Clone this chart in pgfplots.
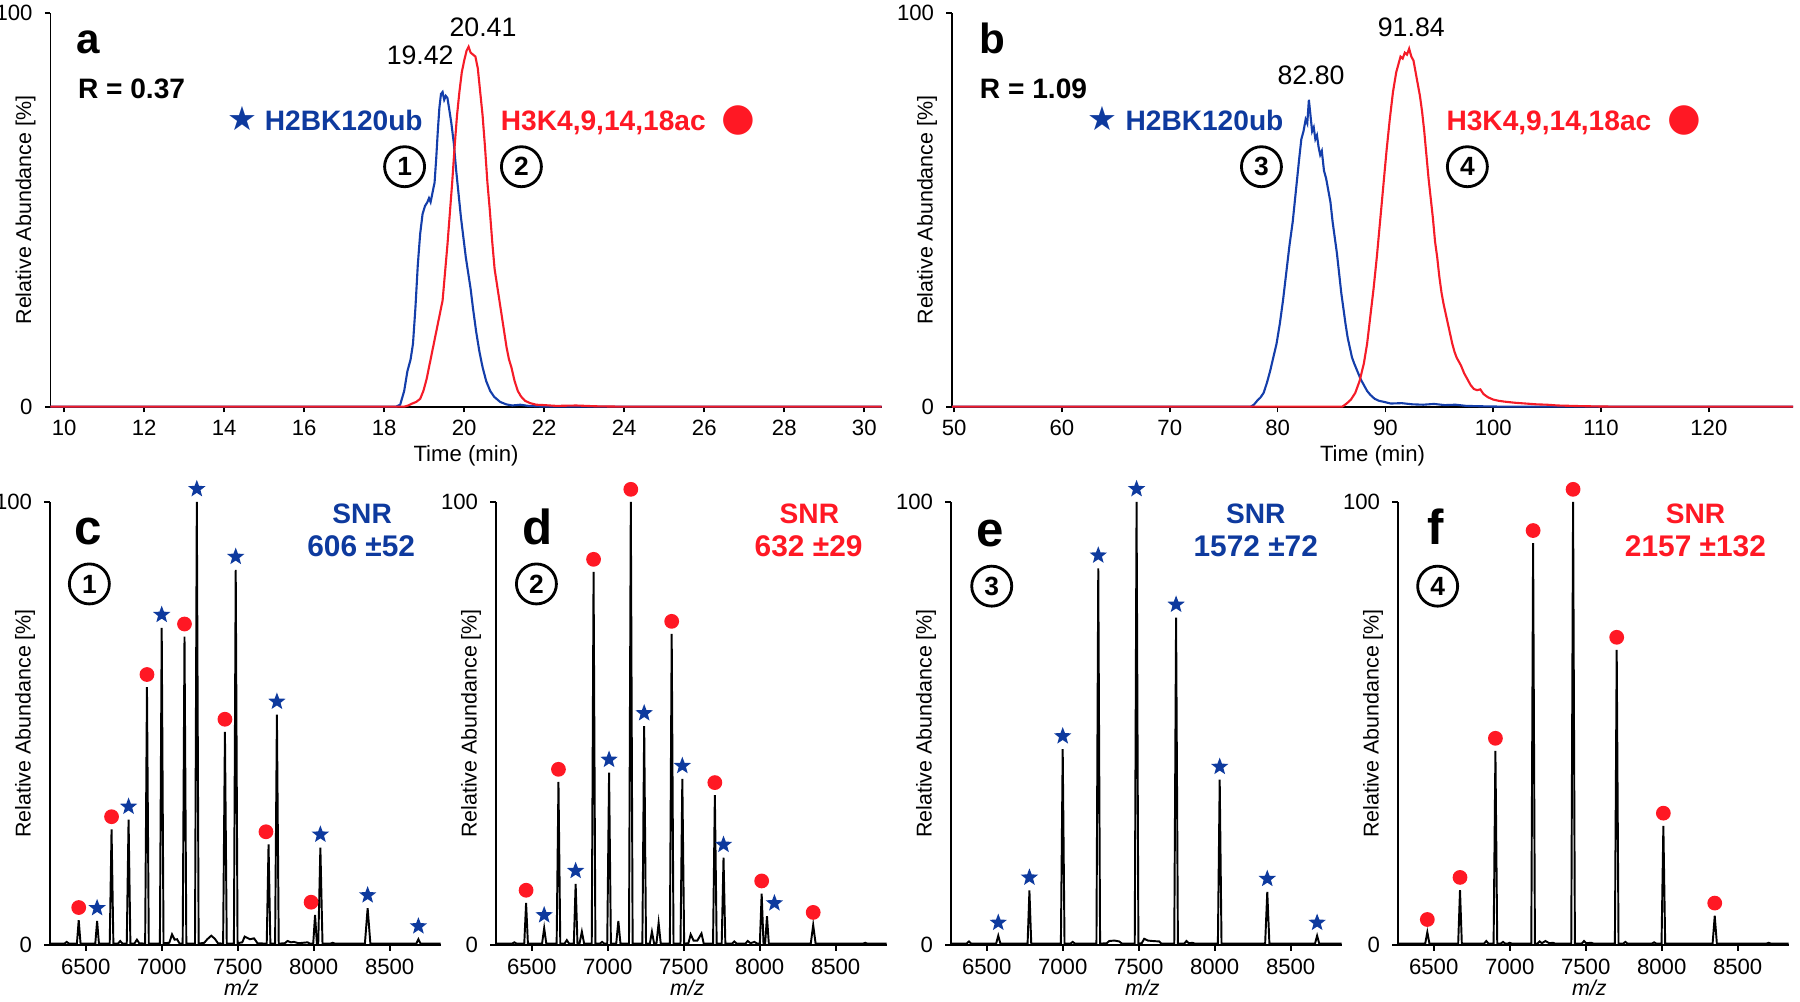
\documentclass[border=0pt]{standalone}
\usepackage{pgfplots}
\pgfplotsset{compat=1.18}
\usepackage{fontspec}
\setmainfont{Liberation Sans}
\newfontfamily\dejavu{DejaVu Sans}
\definecolor{myblue}{RGB}{14,58,158}
\definecolor{myred}{RGB}{255,24,36}
\definecolor{cblue}{RGB}{20,62,170}
\definecolor{cred}{RGB}{245,28,40}

\pgfdeclareplotmark{fstar}{%
  \pgfpathmoveto{\pgfpointpolar{90}{\pgfplotmarksize}}%
  \pgfpathlineto{\pgfpointpolar{126}{0.42\pgfplotmarksize}}%
  \pgfpathlineto{\pgfpointpolar{162}{\pgfplotmarksize}}%
  \pgfpathlineto{\pgfpointpolar{198}{0.42\pgfplotmarksize}}%
  \pgfpathlineto{\pgfpointpolar{234}{\pgfplotmarksize}}%
  \pgfpathlineto{\pgfpointpolar{270}{0.42\pgfplotmarksize}}%
  \pgfpathlineto{\pgfpointpolar{306}{\pgfplotmarksize}}%
  \pgfpathlineto{\pgfpointpolar{342}{0.42\pgfplotmarksize}}%
  \pgfpathlineto{\pgfpointpolar{18}{\pgfplotmarksize}}%
  \pgfpathlineto{\pgfpointpolar{54}{0.42\pgfplotmarksize}}%
  \pgfpathclose
  \pgfusepathqfill
}

\newcommand{\lbl}[1]{\fontsize{#1}{#1}\selectfont}
\newcommand{\circnum}[1]{node[circle, draw=black, line width=0.8pt, minimum size=0.4cm, inner sep=0pt, font=\lbl{7.5}\bfseries]{#1}}

\pgfplotsset{
  base/.style={scale only axis, clip=false,
    axis x line*=bottom, axis y line*=left,
    axis line style={-, line width=0.5pt},
    tick align=outside, major tick length=1.6pt,
    tick style={line width=0.5pt, black},
    ymin=0, ymax=100, ytick={0,100},
    tick label style={font=\lbl{6.3}},
    xticklabel style={yshift=1.2pt},
    /pgf/number format/assume math mode=true,
    /pgf/number format/set thousands separator={},
    ylabel={Relative Abundance [\%]},
    ylabel style={font=\lbl{6.1}, anchor=center},
  },
  chrom/.style={base, height=3.934cm,
    xlabel={Time (min)},
    xlabel style={at={(axis description cs:0.5,0)}, anchor=center, yshift=-0.49cm, font=\lbl{6.3}},
    ylabel style={at={(axis description cs:#1,0.5)}},
  },
  spec/.style={base, height=4.43cm, width=3.906cm, xmin=6265, xmax=8835,
    xtick={6500,7000,...,8500},
    xlabel={\textit{m/z}},
    xlabel style={at={(axis description cs:0.49,0)}, anchor=center, yshift=-0.43cm, font=\lbl{6.1}},
    ylabel style={at={(axis description cs:-0.064,0.5)}},
  },
  specline/.style={black, line width=0.55pt},
  bstar/.style={only marks, mark=fstar, mark size=2.6pt, color=myblue, mark options={fill=myblue, yshift=3.7pt}},
  rdot/.style={only marks, mark=*, mark size=1.9pt, color=myred, mark options={fill=myred, draw=myred, yshift=3.6pt}},
}

\begin{document}
\begin{tikzpicture}
\path[use as bounding box] (0,0) rectangle (18,10.02);

% ---------------- panel a ----------------
\begin{axis}[chrom=-0.030, at={(0.505cm,5.953cm)}, anchor=south west, width=8.31cm,
  xmin=9.66, xmax=30.43, xtick={10,12,...,30}]
\addplot[cblue, line width=0.6pt] coordinates {
(9.66,0) (18.3,0) (18.4,0.5) (18.5,4) (18.58,9) (18.66,12) (18.72,16) (18.78,25) (18.84,36) (18.9,44) (18.96,49) (19.02,51) (19.08,52) (19.12,53) (19.16,52) (19.2,54) (19.26,57) (19.3,63) (19.34,70) (19.38,76) (19.42,79.5) (19.46,80) (19.5,78) (19.54,79) (19.58,78.5) (19.62,76) (19.68,72) (19.74,67) (19.8,60) (19.86,54) (19.92,48) (19.98,43) (20.04,38) (20.1,34) (20.16,30) (20.22,25) (20.3,19) (20.38,14) (20.46,10) (20.55,6.5) (20.65,4) (20.75,2.5) (20.9,1.2) (21.05,0.6) (21.2,0.3) (21.4,0.5) (21.6,0.2) (22,0) (30.43,0)};
\addplot[cred, line width=0.6pt] coordinates {
(9.66,0) (18.5,0) (18.6,0.3) (18.7,0.8) (18.8,1.2) (18.9,2) (18.98,4) (19.06,7) (19.12,10) (19.2,14) (19.28,18) (19.34,21) (19.4,24) (19.46,27) (19.52,34) (19.58,41) (19.64,49) (19.7,57) (19.76,66) (19.82,74) (19.88,80) (19.94,85) (20.0,88) (20.06,90.5) (20.11,91.5) (20.16,90) (20.22,89.5) (20.28,89) (20.34,86) (20.4,80) (20.46,74) (20.52,66) (20.58,57) (20.64,50) (20.7,42) (20.76,35) (20.82,31) (20.88,27) (20.94,23) (21.0,19) (21.06,15) (21.12,12) (21.18,10) (21.26,6.5) (21.34,4) (21.42,2.6) (21.52,1.5) (21.65,0.9) (21.8,0.5) (22.0,0.4) (22.3,0.2) (22.8,0.3) (23.3,0.1) (24,0) (30.43,0)};
\node[anchor=base, font=\lbl{12}\bfseries] at (axis cs:10.61,89.8) {a};
\node[anchor=base west, font=\lbl{8}\bfseries, inner sep=0pt] at (axis cs:10.33,78.4) {R = 0.37};
\node[anchor=base east, font=\lbl{8}\bfseries, text=myblue, inner sep=0pt] at (axis cs:18.98,70.3) {{\dejavu\lbl{9.5}★} H2BK120ub};
\node[anchor=base west, font=\lbl{8}\bfseries, text=myred, inner sep=0pt] at (axis cs:20.9,70.3) {H3K4,9,14,18ac\hspace{0.3em} {\dejavu\lbl{11}●}};
\path (axis cs:18.51,61) \circnum{1};
\path (axis cs:21.43,61) \circnum{2};
\node[anchor=base, font=\lbl{7.6}] at (axis cs:18.9,86.9) {19.42};
\node[anchor=base, font=\lbl{7.6}] at (axis cs:20.47,94.1) {20.41};
\end{axis}

% ---------------- panel b ----------------
\begin{axis}[chrom=-0.0297, at={(9.52cm,5.953cm)}, anchor=south west, width=8.41cm,
  xmin=49.8, xmax=127.8, xtick={50,60,...,120}]
\addplot[cblue, line width=0.6pt] coordinates {
(49.8,0) (77.5,0) (77.8,0.5) (78.1,1.5) (78.4,2.3) (78.7,3.5) (79.0,6) (79.3,9) (79.6,12.5) (79.9,16) (80.2,21) (80.5,27) (80.8,34) (81.1,41) (81.4,47) (81.7,55) (82.0,63) (82.2,68) (82.4,70) (82.6,73) (82.75,72) (82.9,78) (83.05,74) (83.2,70) (83.35,71) (83.5,68) (83.65,69) (83.8,66) (83.95,64) (84.1,65) (84.3,60) (84.5,58) (84.7,55) (84.9,52) (85.1,47) (85.3,43) (85.5,39) (85.7,34) (85.9,29) (86.1,25) (86.3,21) (86.5,17.5) (86.7,15) (86.9,12.5) (87.1,11) (87.4,9) (87.7,7) (88.0,5.5) (88.3,4) (88.6,3) (89.0,2) (89.4,1.5) (89.9,1.2) (90.5,0.8) (91.5,0.9) (92.5,0.6) (93.5,0.5) (94.5,0.7) (95.5,0.4) (96.5,0.5) (97.5,0.2) (99,0.1) (101,0) (127.8,0)};
\addplot[cred, line width=0.6pt] coordinates {
(49.8,0) (86.0,0) (86.4,0.8) (86.8,1.8) (87.2,3.5) (87.6,6.5) (88.0,11) (88.3,16) (88.6,23) (88.9,30) (89.2,38) (89.5,47) (89.8,56) (90.1,65) (90.4,73) (90.7,80) (91.0,85) (91.2,87) (91.4,89) (91.6,88.5) (91.8,90) (92.0,89.5) (92.2,91) (92.4,89) (92.6,88) (92.8,85) (93.0,82) (93.2,79) (93.4,75) (93.6,70) (93.8,64) (94.0,58) (94.2,53) (94.4,48) (94.6,42) (94.8,38) (95.0,33) (95.2,29) (95.4,26) (95.6,23.5) (95.8,21) (96.0,18.5) (96.2,16) (96.4,14) (96.6,12.5) (96.8,11.5) (97.0,10.5) (97.3,8.5) (97.6,7) (97.9,5.5) (98.2,4.5) (98.5,4.2) (98.8,4.4) (99.1,3.2) (99.5,2.4) (100,1.8) (100.5,1.5) (101,1.3) (102,1.0) (103,0.8) (104,0.6) (105,0.5) (106,0.3) (108,0.15) (110,0.05) (112,0) (127.8,0)};
\node[anchor=base, font=\lbl{12}\bfseries] at (axis cs:53.55,89.8) {b};
\node[anchor=base west, font=\lbl{8}\bfseries, inner sep=0pt] at (axis cs:52.33,78.4) {R = 1.09};
\node[anchor=base east, font=\lbl{8}\bfseries, text=myblue, inner sep=0pt] at (axis cs:80.6,70.3) {{\dejavu\lbl{9.5}★} H2BK120ub};
\node[anchor=base west, font=\lbl{8}\bfseries, text=myred, inner sep=0pt] at (axis cs:95.6,70.3) {H3K4,9,14,18ac\hspace{0.3em} {\dejavu\lbl{11}●}};
\path (axis cs:78.5,61) \circnum{3};
\path (axis cs:97.6,61) \circnum{4};
\node[anchor=base, font=\lbl{7.6}] at (axis cs:83.1,81.8) {82.80};
\node[anchor=base, font=\lbl{7.6}] at (axis cs:92.4,94.1) {91.84};
\end{axis}

% ---------------- panel c ----------------
\begin{axis}[spec, at={(0.50cm,0.57cm)}, anchor=south west]
\addplot[specline] coordinates {
(6265,0.3) (6360,0.3) (6375,0.7) (6390,0.3)
(6442,0.3) (6454,5.6) (6466,0.3)
(6563,0.3) (6575,5.4) (6587,0.3)
(6658,0.3) (6670,26.1) (6682,0.3)
(6712,0.3) (6727,0.9) (6742,0.3)
(6770,0.3) (6782,28.3) (6794,0.3)
(6820,0.3) (6837,1.2) (6852,0.4)
(6891,0.3) (6903,58.2) (6915,0.3)
(6988,0.3) (7000,71.6) (7012,0.4)
(7050,0.5) (7068,2.4) (7085,1.2) (7101,1.3) (7118,0.3)
(7138,0.3) (7150,69.6) (7162,0.3)
(7219,0.3) (7231,100) (7243,0.3)
(7280,0.5) (7300,1.3) (7326,2.1) (7350,1.4) (7370,0.4)
(7404,0.3) (7416,48.1) (7428,0.3)
(7475,0.3) (7487,84.7) (7499,0.4)
(7530,0.6) (7546,1.9) (7580,1.3) (7608,1.5) (7630,0.4)
(7691,0.3) (7703,22.7) (7715,0.3)
(7746,0.3) (7758,52) (7770,0.3)
(7810,0.4) (7828,0.9) (7850,0.6) (7870,0.7) (7900,0.4) (7960,0.6) (7975,0.3)
(7997,0.3) (8009,6.8) (8021,0.4)
(8030,0.4) (8044,22) (8058,0.3)
(8110,0.3) (8125,0.5) (8140,0.3)
(8337,0.3) (8355,8.3) (8373,0.3)
(8675,0.3) (8689,1.3) (8703,0.3)
(8835,0.3)};
\addplot[rdot] coordinates {(6454,5.6) (6670,26.1) (6903,58.2) (7150,69.6) (7416,48.1) (7686,22.7) (7983,6.8)};
\addplot[bstar] coordinates {(6575,5.4) (6782,28.3) (7000,71.6) (7231,100) (7487,84.7) (7758,52) (8044,22) (8355,8.3) (8689,1.3)};
\node[anchor=base, font=\lbl{14}\bfseries] at (axis cs:6519,90.3) {c};
\path (axis cs:6524,81.5) \circnum{1};
\node[anchor=base, font=\lbl{8}\bfseries, text=myblue] at (axis cs:8319,95.2) {SNR};
\node[anchor=base, font=\lbl{8.5}\bfseries, text=myblue] at (axis cs:8313,87.7) {606 ±52};
\end{axis}

% ---------------- panel d ----------------
\begin{axis}[spec, at={(4.96cm,0.57cm)}, anchor=south west]
\addplot[specline] coordinates {
(6265,0.3) (6371,0.3) (6386,0.6) (6401,0.3)
(6451,0.3) (6463,9.5) (6475,0.3)
(6568,0.3) (6582,3.8) (6596,0.3)
(6664,0.3) (6676,36.8) (6688,0.3)
(6716,0.3) (6731,1.1) (6746,0.3)
(6777,0.3) (6789,13.8) (6801,0.4)
(6815,0.4) (6830,3.0) (6845,0.3)
(6895,0.3) (6907,84.2) (6919,0.3)
(6948,0.3) (6963,0.7) (6978,0.3)
(6997,0.3) (7009,38.9) (7021,0.3)
(7056,0.3) (7070,5.4) (7084,0.3)
(7140,0.3) (7152,100) (7164,0.3)
(7228,0.3) (7240,49.4) (7252,0.3)
(7277,0.3) (7291,3.0) (7305,0.4)
(7321,0.4) (7335,5.0) (7349,0.3)
(7409,0.3) (7421,70.2) (7433,0.3)
(7479,0.3) (7491,37.5) (7503,0.3)
(7531,0.4) (7546,2.4) (7565,1.0) (7590,1.0) (7617,2.6) (7632,0.3)
(7693,0.3) (7705,33.8) (7717,0.3)
(7750,0.3) (7762,19.7) (7774,0.3)
(7818,0.3) (7833,0.8) (7848,0.3) (7906,0.3) (7921,0.9) (7940,0.4) (7965,0.7) (7985,0.3)
(8001,0.3) (8013,11.6) (8025,0.4)
(8036,0.4) (8048,6.5) (8060,0.3)
(8336,0.3) (8352,4.5) (8368,0.3)
(8680,0.3) (8694,0.5) (8708,0.3)
(8835,0.3)};
\addplot[rdot] coordinates {(6463,9.5) (6676,36.8) (6907,84.2) (7152,100) (7421,70.2) (7705,33.8) (8013,11.6) (8352,4.5)};
\addplot[bstar] coordinates {(6582,3.8) (6789,13.8) (7009,38.9) (7240,49.4) (7491,37.5) (7762,19.7) (8097,6.5)};
\node[anchor=base, font=\lbl{14}\bfseries] at (axis cs:6535,90.3) {d};
\path (axis cs:6531,81.5) \circnum{2};
\node[anchor=base, font=\lbl{8}\bfseries, text=myred] at (axis cs:8327,95.2) {SNR};
\node[anchor=base, font=\lbl{8.5}\bfseries, text=myred] at (axis cs:8322,87.7) {632 ±29};
\end{axis}

% ---------------- panel e ----------------
\begin{axis}[spec, at={(9.51cm,0.57cm)}, anchor=south west]
\addplot[specline] coordinates {
(6265,0.3) (6368,0.3) (6383,0.8) (6398,0.3)
(6562,0.3) (6576,2.1) (6590,0.3)
(6769,0.3) (6781,12.3) (6793,0.3)
(6988,0.3) (7000,44.2) (7012,0.3)
(7051,0.3) (7066,0.7) (7081,0.3)
(7222,0.3) (7234,85) (7246,0.3)
(7290,0.4) (7306,0.9) (7340,1.0) (7372,0.8) (7390,0.3)
(7474,0.3) (7486,100) (7498,0.3)
(7520,0.4) (7536,1.4) (7560,1.0) (7590,0.9) (7635,0.8) (7650,0.3)
(7734,0.3) (7746,73.9) (7758,0.3)
(7800,0.3) (7814,0.9) (7830,0.4) (7853,0.5) (7870,0.3)
(8021,0.3) (8033,37.3) (8045,0.3)
(8332,0.3) (8346,12) (8360,0.3)
(8660,0.3) (8674,2.1) (8688,0.3)
(8835,0.3)};
\addplot[bstar] coordinates {(6576,2.1) (6781,12.3) (7000,44.2) (7234,85) (7486,100) (7746,73.9) (8033,37.3) (8346,12) (8674,2.1)};
\node[anchor=base, font=\lbl{14}\bfseries] at (axis cs:6522,90.0) {e};
\path (axis cs:6533,81) \circnum{3};
\node[anchor=base, font=\lbl{8}\bfseries, text=myblue] at (axis cs:8270,95.2) {SNR};
\node[anchor=base, font=\lbl{8.5}\bfseries, text=myblue] at (axis cs:8270,87.7) {1572 ±72};
\end{axis}

% ---------------- panel f ----------------
\begin{axis}[spec, at={(13.98cm,0.57cm)}, anchor=south west]
\addplot[specline] coordinates {
(6265,0.3) (6444,0.3) (6458,2.9) (6472,0.3)
(6661,0.3) (6673,12.4) (6685,0.3)
(6831,0.3) (6846,0.9) (6861,0.3)
(6894,0.3) (6906,43.8) (6918,0.3)
(6941,0.3) (6956,0.7) (6971,0.3) (6985,0.3) (7000,0.5) (7015,0.3)
(7142,0.3) (7154,90.7) (7166,0.3)
(7182,0.3) (7197,0.8) (7212,0.4) (7235,0.9) (7260,0.4) (7285,0.5) (7300,0.3)
(7405,0.3) (7417,100) (7429,0.3)
(7474,0.3) (7489,0.9) (7504,0.4) (7537,0.5) (7552,0.3)
(7692,0.3) (7704,66.6) (7716,0.3)
(7746,0.3) (7761,0.7) (7776,0.3)
(7935,0.3) (7950,0.6) (7965,0.3)
(7999,0.3) (8011,26.9) (8023,0.3)
(8335,0.3) (8349,6.6) (8363,0.3)
(8689,0.3) (8704,0.5) (8719,0.3)
(8835,0.3)};
\addplot[rdot] coordinates {(6458,2.9) (6673,12.4) (6906,43.8) (7154,90.7) (7417,100) (7704,66.6) (8011,26.9) (8349,6.6)};
\node[anchor=base, font=\lbl{14}\bfseries] at (axis cs:6513,90.3) {f};
\path (axis cs:6526,81) \circnum{4};
\node[anchor=base, font=\lbl{8}\bfseries, text=myred] at (axis cs:8222,95.2) {SNR};
\node[anchor=base, font=\lbl{8.5}\bfseries, text=myred] at (axis cs:8222,87.7) {2157 ±132};
\end{axis}
\end{tikzpicture}
\end{document}
